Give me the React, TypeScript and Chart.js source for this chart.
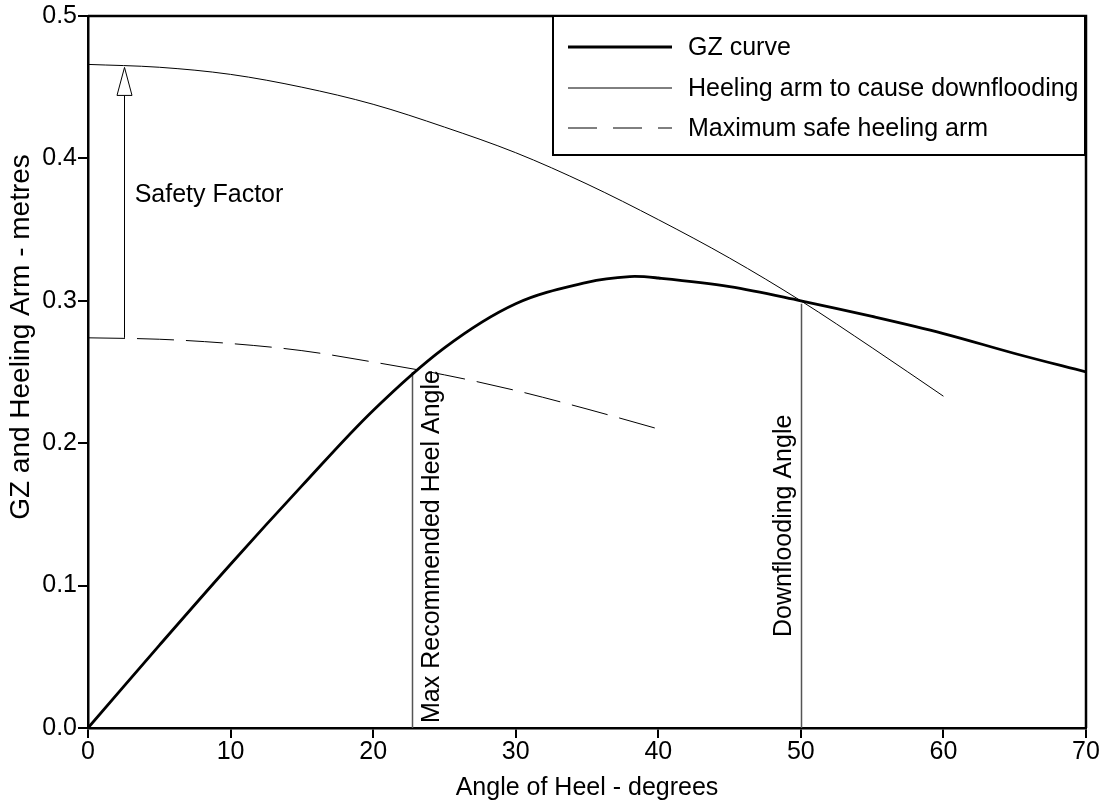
import React, { useEffect, useRef } from "react";
import { Chart, registerables } from "chart.js";

Chart.register(...registerables);

// ---- Data ----
const gzAngles = [0, 5, 10, 15, 20, 25, 30, 35, 38, 40, 45, 50, 55, 60, 65, 70];
const gzValues = [0, 0.058, 0.115, 0.170, 0.223, 0.267, 0.298, 0.313, 0.317, 0.316, 0.310, 0.300, 0.289, 0.277, 0.263, 0.250];

const heelAngles = [0, 5, 10, 15, 20, 25, 30, 35, 40, 45, 50, 55, 60];
const heelValues = [0.466, 0.464, 0.459, 0.450, 0.438, 0.422, 0.404, 0.382, 0.357, 0.330, 0.300, 0.267, 0.233];

const safeAngles = [0, 5, 10, 15, 20, 25, 30, 35, 40];
const safeValues = [0.274, 0.273, 0.270, 0.265, 0.257, 0.248, 0.237, 0.224, 0.210];

const seriesLabels = ["GZ curve", "Heeling arm to cause downflooding", "Maximum safe heeling arm"];

const xTicks = [0, 10, 20, 30, 40, 50, 60, 70];
const yTicks = [0.0, 0.1, 0.2, 0.3, 0.4, 0.5];

const xTitle = "Angle of Heel - degrees";
const yTitle = "GZ and Heeling Arm - metres";

// annotations
const safetyArrow = { x: 2.5, yFrom: 0.274, yTo: 0.466, label: "Safety Factor" };
const maxHeel = { x: 22.7, yTop: 0.25, label: "Max Recommended Heel Angle" };
const downflood = { x: 50, yTop: 0.298, label: "Downflooding Angle" };

const FONT = "'Liberation Sans', Arial, Helvetica, sans-serif";

export default function App() {
  const ref = useRef<HTMLCanvasElement | null>(null);

  useEffect(() => {
    document.body.style.margin = "0";
    const canvas = ref.current;
    if (!canvas) return;

    const overlay = {
      id: "overlay",
      beforeDatasetsDraw(chart: any) {
        const ctx = chart.ctx;
        const xs = chart.scales.x;
        const ys = chart.scales.y;
        ctx.save();
        // vertical reference lines
        ctx.strokeStyle = "#555";
        ctx.lineWidth = 1.5;
        for (const v of [maxHeel, downflood]) {
          const px = Math.round(xs.getPixelForValue(v.x)) + 0.5;
          ctx.beginPath();
          ctx.moveTo(px, ys.getPixelForValue(0));
          ctx.lineTo(px, ys.getPixelForValue(v.yTop));
          ctx.stroke();
        }
        // safety factor arrow
        const ax = Math.round(xs.getPixelForValue(safetyArrow.x)) + 0.5;
        const yFrom = ys.getPixelForValue(safetyArrow.yFrom);
        const yTip = ys.getPixelForValue(safetyArrow.yTo) + 3;
        const headLen = 28;
        const headHalf = 7.5;
        ctx.strokeStyle = "#000";
        ctx.lineWidth = 1;
        ctx.beginPath();
        ctx.moveTo(ax, yFrom);
        ctx.lineTo(ax, yTip + headLen);
        ctx.stroke();
        ctx.beginPath();
        ctx.moveTo(ax, yTip);
        ctx.lineTo(ax - headHalf, yTip + headLen);
        ctx.lineTo(ax + headHalf, yTip + headLen);
        ctx.closePath();
        ctx.fillStyle = "#fff";
        ctx.fill();
        ctx.stroke();
        ctx.restore();
      },
      afterDraw(chart: any) {
        const ctx = chart.ctx;
        const xs = chart.scales.x;
        const ys = chart.scales.y;
        const a = chart.chartArea;
        ctx.save();
        // frame top & right
        ctx.strokeStyle = "#000";
        ctx.lineWidth = 2.5;
        ctx.beginPath();
        ctx.moveTo(a.left, a.top);
        ctx.lineTo(a.right, a.top);
        ctx.lineTo(a.right, a.bottom);
        ctx.stroke();

        // annotation texts
        ctx.fillStyle = "#000";
        ctx.font = `25px ${FONT}`;
        ctx.textAlign = "left";
        ctx.textBaseline = "alphabetic";
        ctx.fillText(safetyArrow.label, xs.getPixelForValue(safetyArrow.x) + 11, 202);

        const rot = (text: string, x: number, y: number) => {
          ctx.save();
          ctx.translate(x, y);
          ctx.rotate(-Math.PI / 2);
          ctx.textAlign = "left";
          ctx.textBaseline = "alphabetic";
          ctx.fillText(text, 0, 0);
          ctx.restore();
        };
        rot(maxHeel.label, xs.getPixelForValue(maxHeel.x) + 27, ys.getPixelForValue(0) - 5);
        rot(downflood.label, xs.getPixelForValue(downflood.x) - 10, 637);

        // axis titles
        ctx.font = `25px ${FONT}`;
        ctx.textAlign = "center";
        ctx.fillText(xTitle, (a.left + a.right) / 2, 795);
        ctx.save();
        ctx.translate(29, 337);
        ctx.rotate(-Math.PI / 2);
        ctx.textAlign = "center";
        ctx.font = `28px ${FONT}`;
        ctx.fillText(yTitle, 0, 0);
        ctx.restore();

        // legend
        const lx = 553, ly = 16, lw = 532, lh = 139;
        ctx.fillStyle = "#fff";
        ctx.fillRect(lx, ly, lw, lh);
        ctx.strokeStyle = "#000";
        ctx.lineWidth = 2;
        ctx.strokeRect(lx, ly, lw, lh);
        const rows = [47, 88, 128];
        const ds = chart.data.datasets;
        ctx.font = `25px ${FONT}`;
        ctx.textAlign = "left";
        ctx.textBaseline = "middle";
        rows.forEach((ry, i) => {
          const d = ds[i];
          ctx.save();
          ctx.strokeStyle = d.borderColor;
          ctx.lineWidth = d.borderWidth;
          ctx.setLineDash(i === 2 ? [29, 16] : []);
          ctx.beginPath();
          ctx.moveTo(568, ry);
          ctx.lineTo(672, ry);
          ctx.stroke();
          ctx.restore();
          ctx.fillStyle = "#000";
          ctx.fillText(d.label, 688, ry + 1);
        });
        ctx.restore();
      },
    };

    const tickFont = { family: FONT, size: 25, lineHeight: 1 };

    const chart = new Chart(canvas, {
      type: "line",
      data: {
        datasets: [
          {
            label: seriesLabels[0],
            data: gzAngles.map((x, i) => ({ x, y: gzValues[i] })),
            borderColor: "#000",
            borderWidth: 2.8,
            pointRadius: 0,
            tension: 0.35,
            fill: false,
          },
          {
            label: seriesLabels[1],
            data: heelAngles.map((x, i) => ({ x, y: heelValues[i] })),
            borderColor: "#000",
            borderWidth: 1,
            pointRadius: 0,
            cubicInterpolationMode: "monotone",
            fill: false,
          },
          {
            label: seriesLabels[2],
            data: safeAngles.map((x, i) => ({ x, y: safeValues[i] })),
            borderColor: "#000",
            borderWidth: 1,
            borderDash: [37, 12],
            pointRadius: 0,
            cubicInterpolationMode: "monotone",
            fill: false,
          },
        ],
      },
      options: {
        animation: false,
        responsive: false,
        devicePixelRatio: 1,
        layout: { padding: { top: 16, right: 22, left: 0, bottom: 0 } },
        plugins: { legend: { display: false }, tooltip: { enabled: false } },
        scales: {
          x: {
            type: "linear",
            min: 0,
            max: 70,
            afterBuildTicks: (s: any) => {
              s.ticks = xTicks.map((v) => ({ value: v }));
            },
            afterFit: (s: any) => {
              s.height = 78;
            },
            ticks: {
              autoSkip: false,
              maxRotation: 0,
              color: "#000",
              font: tickFont,
              padding: 2,
              callback: (v: any) => String(v),
            },
            grid: {
              drawOnChartArea: false,
              drawTicks: true,
              tickLength: 10,
              color: "#000",
              lineWidth: 2,
            },
            border: { display: true, color: "#000", width: 2.5 },
          },
          y: {
            type: "linear",
            min: 0,
            max: 0.5,
            afterBuildTicks: (s: any) => {
              s.ticks = yTicks.map((v) => ({ value: v }));
            },
            afterFit: (s: any) => {
              s.width = 88;
            },
            ticks: {
              autoSkip: false,
              color: "#000",
              font: tickFont,
              padding: 1,
              callback: (v: any) => Number(v).toFixed(1),
            },
            grid: {
              drawOnChartArea: false,
              drawTicks: true,
              tickLength: 10,
              color: "#000",
              lineWidth: 2,
            },
            border: { display: true, color: "#000", width: 2.5 },
          },
        },
      },
      plugins: [overlay],
    });

    return () => chart.destroy();
  }, []);

  return <canvas ref={ref} width={1108} height={806} style={{ display: "block" }} />;
}
